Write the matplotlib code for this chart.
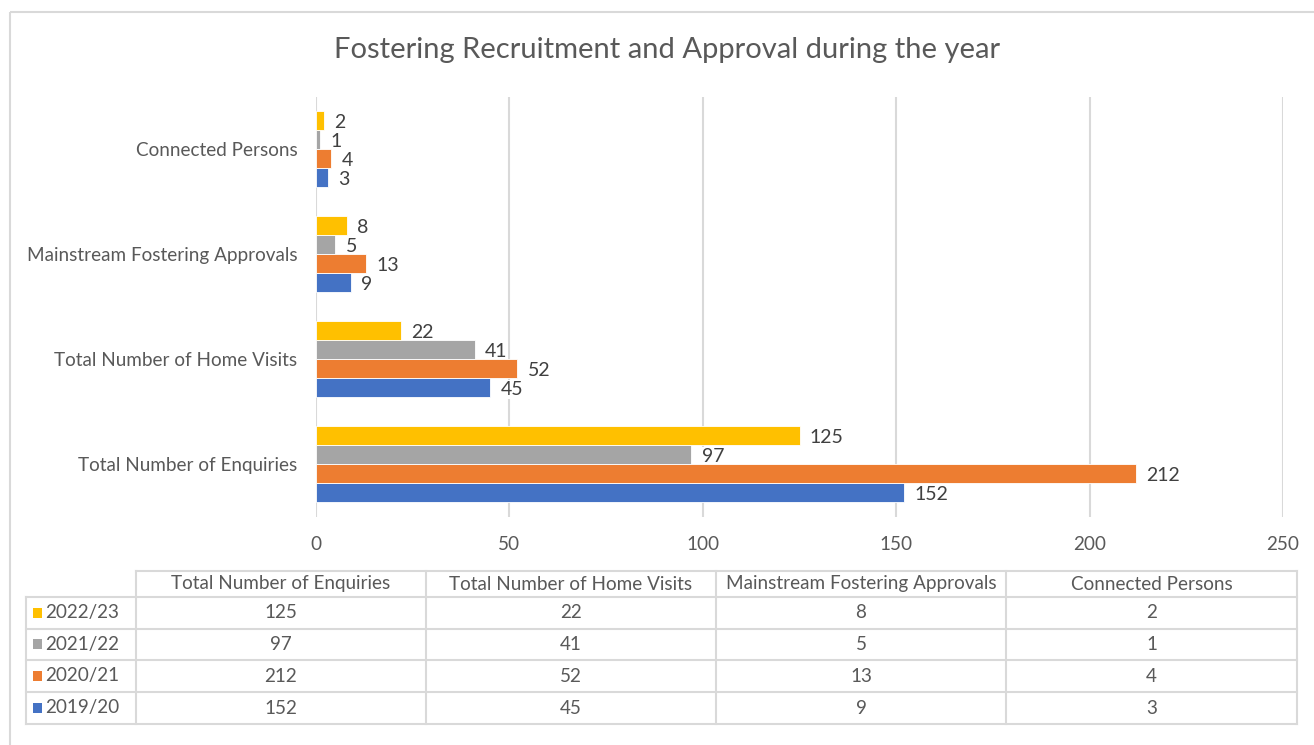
import matplotlib.pyplot as plt
from matplotlib.patches import Rectangle

plt.rcParams['font.family'] = ['Lato', 'DejaVu Sans']

categories = ['Total Number of Enquiries', 'Total Number of Home Visits',
              'Mainstream Fostering Approvals', 'Connected Persons']
years = ['2019/20', '2020/21', '2021/22', '2022/23']
values = {
    '2019/20': [152, 45, 9, 3],
    '2020/21': [212, 52, 13, 4],
    '2021/22': [97, 41, 5, 1],
    '2022/23': [125, 22, 8, 2],
}
colors = {
    '2019/20': '#4472C4',
    '2020/21': '#ED7D31',
    '2021/22': '#A5A5A5',
    '2022/23': '#FFC000',
}
xticks = [0, 50, 100, 150, 200, 250]

TEXT = '#595959'
GRID = '#d9d9d9'
FS = 13.6
W, H = 1314, 745

fig = plt.figure(figsize=(W / 100, H / 100), dpi=100)

# page-level layer in pixel coordinates for the frame and the data table
bg = fig.add_axes([0, 0, 1, 1])
bg.set_xlim(0, W)
bg.set_ylim(H, 0)
bg.axis('off')
bg.add_patch(Rectangle((10, 12), W + 20, H, fill=False, ec=GRID, lw=1.5))

# bar chart area
ax_l, ax_r, ax_t, ax_b = 316, 1283, 96.5, 516.5
ax = fig.add_axes([ax_l / W, 1 - ax_b / H, (ax_r - ax_l) / W, (ax_b - ax_t) / H])
ax.set_xlim(0, 250)
ax.set_ylim(-0.5, len(categories) - 0.5)

bar_h = 0.182
for i, yr in enumerate(years):
    offs = (i - 1.5) * bar_h
    ys = [c + offs for c in range(len(categories))]
    ax.barh(ys, values[yr], height=bar_h, color=colors[yr],
            edgecolor='white', linewidth=0.6, zorder=3)
    # value labels sit between the gridlines and the bars
    for y, v in zip(ys, values[yr]):
        ax.annotate(str(v), (v, y), xytext=(7.5, -1.5), textcoords='offset points',
                    va='center', ha='left', fontsize=FS + 0.4, color='#404040',
                    zorder=2, bbox=dict(fc='white', ec='none', pad=0.5))

ax.set_xticks(xticks)
ax.set_yticks(range(len(categories)))
ax.set_yticklabels(categories)
ax.tick_params(axis='both', length=0, labelsize=FS, labelcolor=TEXT)
ax.tick_params(axis='x', pad=14)
ax.tick_params(axis='y', pad=13.5)
ax.grid(axis='x', color=GRID, linewidth=1.5, zorder=0)
for s in ax.spines.values():
    s.set_visible(False)

fig.text(667 / W, 1 - 50 / H, 'Fostering Recruitment and Approval during the year',
         ha='center', va='center', fontsize=21, color=TEXT)

# data table under the chart
col_x = [26, 136, 426, 716, 1006, 1297]
row_y = [571, 597, 628.5, 660, 692, 724]
lw = 1.5
bg.plot([col_x[1], col_x[-1]], [row_y[0], row_y[0]], color=GRID, lw=lw)
bg.plot([col_x[0], col_x[-1]], [row_y[-1], row_y[-1]], color=GRID, lw=lw)
for y in row_y[1:-1]:
    bg.plot([col_x[0], col_x[-1]], [y, y], color=GRID, lw=lw)
bg.plot([col_x[0], col_x[0]], [row_y[1], row_y[-1]], color=GRID, lw=lw)
for x in col_x[1:]:
    bg.plot([x, x], [row_y[0], row_y[-1]], color=GRID, lw=lw)

for j, cat in enumerate(categories):
    cx = (col_x[j + 1] + col_x[j + 2]) / 2
    bg.text(cx, (row_y[0] + row_y[1]) / 2, cat, ha='center', va='center',
            fontsize=FS, color=TEXT)

for r, yr in enumerate(reversed(years)):
    cy = (row_y[r + 1] + row_y[r + 2]) / 2
    bg.add_patch(Rectangle((33, cy - 5), 9, 10, color=colors[yr], lw=0))
    bg.text(45, cy, yr, ha='left', va='center', fontsize=FS, color=TEXT)
    for j, v in enumerate(values[yr]):
        cx = (col_x[j + 1] + col_x[j + 2]) / 2
        bg.text(cx, cy, str(v), ha='center', va='center', fontsize=FS, color=TEXT)

fig.savefig('out.png', dpi=100, facecolor='white')
